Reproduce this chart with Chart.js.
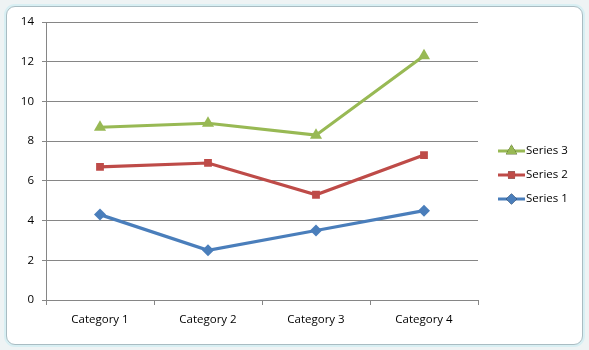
<!DOCTYPE html>
<html>
<head>
<meta charset="utf-8">
<script src="https://cdn.jsdelivr.net/npm/chart.js@4"></script>
<style>
  body { margin: 0; background: #eef3f4; }
  #wrap { position: relative; width: 589px; height: 350px; overflow: hidden; background: #eef3f4; }
  .frame {
    position: absolute; left: 6px; top: 6px; width: 575px; height: 337px;
    background: #fff; border: 1px solid #a9bcc2; border-radius: 9px;
    box-shadow: 0 0 0 2px #d8eff3;
  }
  canvas { position: absolute; left: 0; top: 0; }
</style>
</head>
<body>
<div id="wrap">
  <div class="frame"></div>
  <canvas id="chart" width="589" height="350"></canvas>
</div>
<script>
// values (stacked totals)
const categories = ['Category 1', 'Category 2', 'Category 3', 'Category 4'];
const series1 = [4.3, 2.5, 3.5, 4.5];
const series2 = [6.7, 6.9, 5.3, 7.3];
const series3 = [8.7, 8.9, 8.3, 12.3];
const yTicks = [0, 2, 4, 6, 8, 10, 12, 14];

const FONT = "'Open Sans', sans-serif";

// legend drawn on the right, Series 3 on top like Excel
const sideLegend = {
    id: 'sideLegend',
    afterDraw(chart) {
        const ctx = chart.ctx;
        const sets = chart.data.datasets.slice().reverse();
        const x0 = 498, top = 151, gap = 24;
        sets.forEach((ds, i) => {
            const y = top + i * gap;
            ctx.save();
            ctx.strokeStyle = ds.borderColor;
            ctx.lineWidth = 3;
            ctx.beginPath();
            ctx.moveTo(x0, y);
            ctx.lineTo(x0 + 27, y);
            ctx.stroke();
            Chart.helpers.drawPoint(ctx, {
                pointStyle: ds.pointStyle,
                radius: ds.pointRadius - 0.5,
                rotation: 0,
                borderWidth: 0
            }, x0 + 13.5, y);
            ctx.fillStyle = ds.borderColor;
            ctx.fill();
            ctx.fillStyle = '#000';
            ctx.font = '11.5px ' + FONT;
            ctx.textBaseline = 'middle';
            ctx.fillText(ds.label, x0 + 28, y);
            ctx.restore();
        });
    }
};

function makeSet(label, data, color, style, r) {
    return {
        label, data,
        borderColor: color,
        backgroundColor: color,
        pointBackgroundColor: color,
        pointBorderColor: color,
        borderWidth: 3.2,
        pointBorderWidth: 0,
        pointStyle: style,
        pointRadius: r,
        pointHoverRadius: r,
        tension: 0
    };
}

new Chart(document.getElementById('chart'), {
    type: 'line',
    data: {
        labels: categories,
        datasets: [
            makeSet('Series 1', series1, '#4a7ebb', 'rectRot', 6),
            makeSet('Series 2', series2, '#be4b48', 'rect', 5.5),
            makeSet('Series 3', series3, '#98b954', 'triangle', 7)
        ]
    },
    plugins: [sideLegend],
    options: {
        responsive: false,
        animation: false,
        layout: { padding: { left: 0, right: 111, top: 22, bottom: 0 } },
        plugins: {
            legend: { display: false },
            tooltip: { enabled: false }
        },
        scales: {
            x: {
                offset: true,
                grid: { drawOnChartArea: false, drawTicks: true, tickLength: 5, color: '#868686', offset: true },
                border: { display: true, color: '#868686', width: 1 },
                ticks: { color: '#000', font: { family: FONT, size: 11.5 }, padding: 8, maxRotation: 0 },
                afterFit(s) { s.height = 50; }
            },
            y: {
                min: 0, max: 14,
                afterBuildTicks(s) { s.ticks = yTicks.map(v => ({ value: v })); },
                grid: { color: '#868686', tickLength: 4 },
                border: { display: true, color: '#868686', width: 1 },
                ticks: { color: '#000', font: { family: FONT, size: 11.5 }, padding: 8 },
                afterFit(s) { s.width = 46; }
            }
        }
    }
});
</script>
</body>
</html>
